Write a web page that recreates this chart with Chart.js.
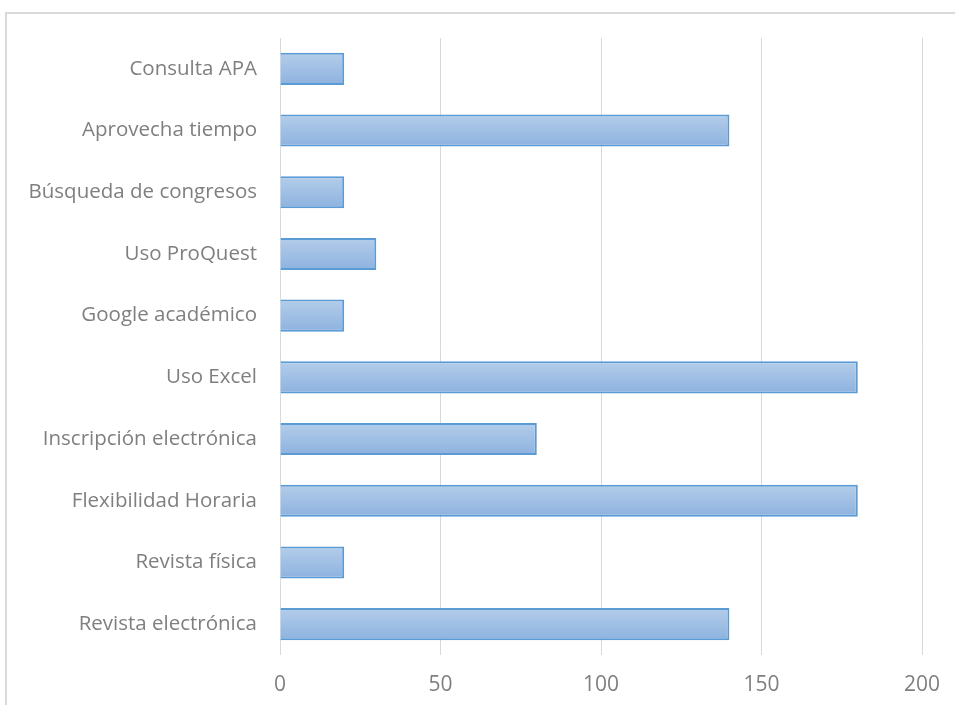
<!DOCTYPE html>
<html>
<head>
<meta charset="utf-8">
<script src="https://cdn.jsdelivr.net/npm/chart.js@4/dist/chart.umd.min.js"></script>
<style>
    html, body { margin: 0; padding: 0; background: #fff; }
    #wrap { width: 955px; height: 705px; position: relative; }
</style>
</head>
<body>
<div id="wrap"><canvas id="chart"></canvas></div>
<script>
const categories = ["Consulta APA", "Aprovecha tiempo", "Búsqueda de congresos", "Uso ProQuest", "Google académico",
    "Uso Excel", "Inscripción electrónica", "Flexibilidad Horaria", "Revista física", "Revista electrónica"];
const values = [20, 140, 20, 30, 20, 180, 80, 180, 20, 140];
const xTicks = [0, 50, 100, 150, 200];

const frame = {
    id: "frame",
    beforeDraw(chart) {
        const ctx = chart.ctx;
        ctx.save();
        ctx.strokeStyle = "#d9d9d9";
        ctx.lineWidth = 2;
        ctx.beginPath();
        ctx.moveTo(6, 705);
        ctx.lineTo(6, 13);
        ctx.lineTo(960, 13);
        ctx.stroke();
        ctx.restore();
    }
};

function barFill(c) {
    const chart = c.chart;
    const y = chart.scales && chart.scales.y;
    if (!y || c.dataIndex === undefined) return "#a2c0e6";
    const mid = y.getPixelForValue(c.dataIndex);
    if (!isFinite(mid)) return "#a2c0e6";
    const g = chart.ctx.createLinearGradient(0, mid - 16, 0, mid + 16);
    g.addColorStop(0, "#b4cdea");
    g.addColorStop(1, "#8db2df");
    return g;
}

new Chart(document.getElementById("chart"), {
    type: "bar",
    data: {
        labels: categories,
        datasets: [{
            data: values,
            backgroundColor: barFill,
            borderColor: "#5b9bd5",
            borderWidth: 2,
            barPercentage: 0.52,
            categoryPercentage: 1
        }]
    },
    plugins: [frame],
    options: {
        indexAxis: "y",
        responsive: true,
        maintainAspectRatio: false,
        animation: false,
        layout: { padding: { left: 0, right: 33, top: 38, bottom: 0 } },
        plugins: { legend: { display: false }, tooltip: { enabled: false } },
        scales: {
            x: {
                min: 0,
                max: 200,
                afterBuildTicks: (s) => { s.ticks = xTicks.map(v => ({ value: v })); },
                afterFit: (s) => { s.height = 50; s.paddingLeft = 0; s.paddingRight = 0; },
                grid: { color: "#d9d9d9", lineWidth: 1, drawTicks: false },
                border: { display: false },
                ticks: { color: "#7f7f7f", padding: 17, font: { family: "Open Sans", size: 21 } }
            },
            y: {
                afterFit: (s) => { s.width = 280; },
                grid: { display: false, drawTicks: false },
                border: { display: false },
                ticks: { color: "#7f7f7f", padding: 23, font: { family: "Open Sans", size: 20.5 } }
            }
        }
    }
});
</script>
</body>
</html>
